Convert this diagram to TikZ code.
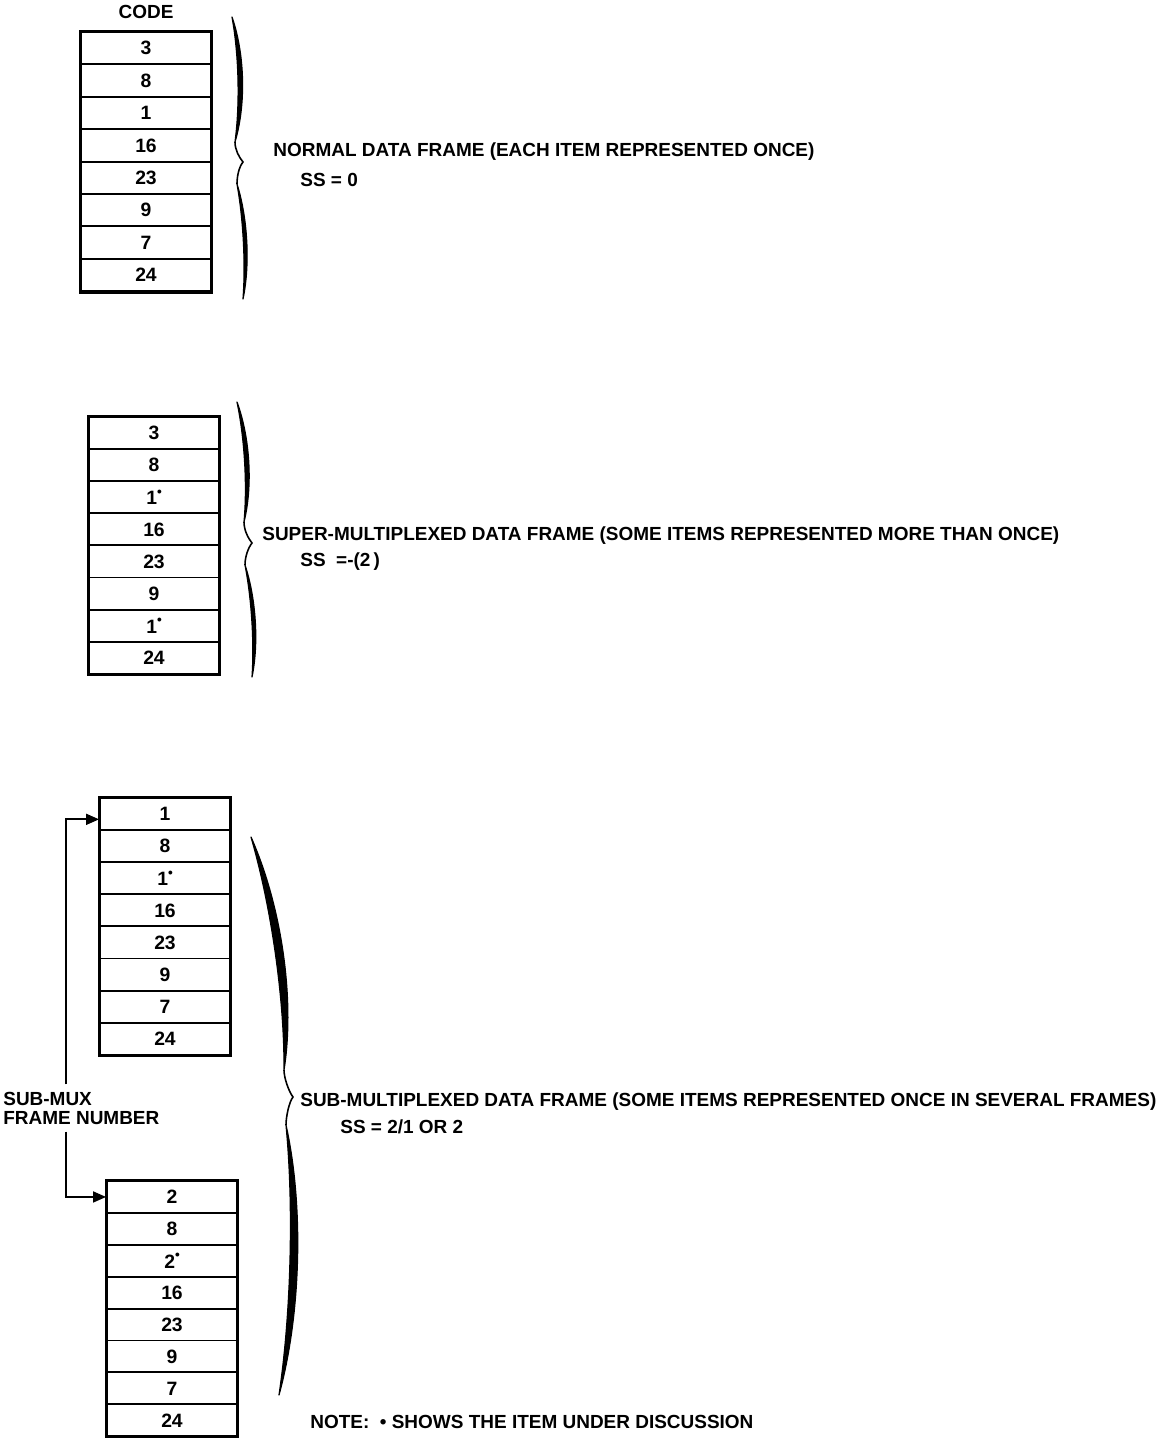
\documentclass[tikz,border=0pt]{standalone}
\usepackage{fontspec}
\usepackage{graphicx}
\setmainfont{Liberation Sans}
\usetikzlibrary{arrows.meta,calc,positioning}

\tikzset{
  cell/.style={draw=black, line width=1.1pt, minimum width=2.6cm, inner sep=0pt, font=\fontsize{11}{12}\selectfont\bfseries},
  stackedge/.style={draw=black, line width=1.7pt},
  lbl/.style={anchor=west, inner sep=0pt, font=\fontsize{10.8}{12}\selectfont\bfseries},
  feed/.style={draw=black, line width=1pt, shorten <=4pt, -{Triangle[length=2.6mm,width=2.2mm]}},
  bracefill/.style={fill=black, draw=black, line width=0.7pt, line join=round},
  bracetip/.style={draw=black, line width=0.9pt},
}

% item under discussion
\newcommand{\itm}[1]{#1\raisebox{0.85ex}{\scalebox{0.7}{\textbullet}}}
% one tapered half of a brace: end, inner point, bulge
\newcommand{\bracehalf}[3]{%
  \path[bracefill] (#1) .. controls ($(#1)!0.3!(#2)+(#3,0)$) and ($(#1)!0.7!(#2)+(#3,0)$) .. (#2)
    .. controls ($(#1)!0.7!(#2)+({0.5*#3},0)$) and ($(#1)!0.3!(#2)+({0.5*#3},0)$) .. cycle;}
% whole brace: top, upper inner, tip, lower inner, bottom, upper bulge, lower bulge
\newcommand{\fbrace}[7]{%
  \bracehalf{#1}{#2}{#6}
  \bracehalf{#5}{#4}{#7}
  \draw[bracetip] (#2) .. controls ($(#2)+(0,8)$) and ($(#3)+(-4,-5)$) .. (#3)
    .. controls ($(#3)+(-4,5)$) and ($(#4)+(0,-8)$) .. (#4);}

\begin{document}
\begin{tikzpicture}[x=0.02cm, y=-0.02cm]
\useasboundingbox (0,0) rectangle (1171,1438);

% normal frame
\foreach \v [count=\i] in {3,8,1,16,23,9,7,24}
  \node[cell, minimum height=0.648cm] (a\i) at (146,{32+32.4*(\i-0.5)}) {\v};
\draw[stackedge] (a1.north west) rectangle (a8.south east);
\node[lbl, above=7pt of a1] (code) {CODE};
\fbrace{232,17}{235,142}{243,162}{237,184}{243,299}{12}{9}
\node[lbl] (nd) at (273,152) {NORMAL DATA FRAME (EACH ITEM REPRESENTED ONCE)};
\node[lbl] (nss) at (300,180) {SS = 0};

% super-multiplexed frame
\foreach \v [count=\i] in {3,8,\itm{1},16,23,9,\itm{1},24}
  \node[cell, minimum height=0.642cm] (b\i) at (154,{417+32.1*(\i-0.5)}) {\v};
\draw[stackedge] (b1.north west) rectangle (b8.south east);
\fbrace{237,402}{244,522}{252,543}{245,565}{252,677}{11}{9}
\node[lbl] (sd) at (262,536) {SUPER-MULTIPLEXED DATA FRAME (SOME ITEMS REPRESENTED MORE THAN ONCE)};
\node[lbl] (sss) at (300,562) {SS\ \ =-(2\,)};

% sub-multiplexed frames
\foreach \v [count=\i] in {1,8,\itm{1},16,23,9,7,24}
  \node[cell, minimum height=0.642cm] (c\i) at (165,{798+32.1*(\i-0.5)}) {\v};
\draw[stackedge] (c1.north west) rectangle (c8.south east);
\foreach \v [count=\i] in {2,8,\itm{2},16,23,9,7,24}
  \node[cell, minimum height=0.638cm] (d\i) at (172,{1181+31.9*(\i-0.5)}) {\v};
\draw[stackedge] (d1.north west) rectangle (d8.south east);
\fbrace{251,837}{284,1070}{293,1097}{286,1125}{279,1395}{21}{20}
\node[lbl] (bd) at (300,1102) {SUB-MULTIPLEXED DATA FRAME (SOME ITEMS REPRESENTED ONCE IN SEVERAL FRAMES)};
\node[lbl] (bss) at (340,1127) {SS = 2/1 OR 2};

% sub-mux frame number
\node[lbl, align=left, font=\fontsize{10.8}{10.8}\selectfont\bfseries] (smux) at (3,1108) {SUB-MUX\\FRAME NUMBER};
\coordinate (spine) at (66,0);
\draw[feed] (smux.north -| spine) |- ([yshift=-3pt]c1.west);
\draw[feed] (smux.south -| spine) |- (d1.west);

\node[lbl] (note) at (310,1422) {NOTE:\ \ \textbullet\ SHOWS THE ITEM UNDER DISCUSSION};
\end{tikzpicture}
\end{document}
